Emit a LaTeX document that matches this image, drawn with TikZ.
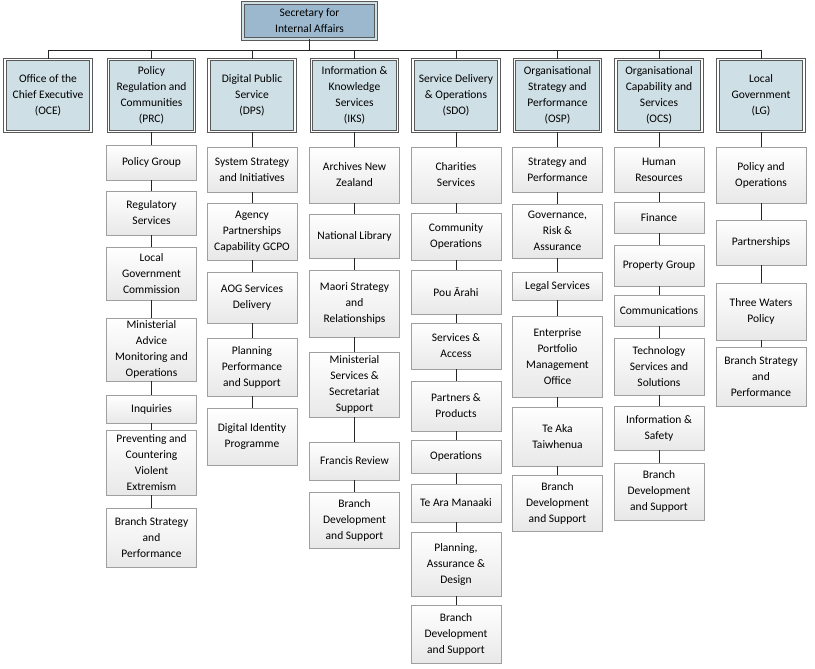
\documentclass[tikz,border=0pt]{standalone}
\usepackage{fontspec}
\setmainfont{Carlito}
\definecolor{topfill}{HTML}{9BB8CE}
\definecolor{headfill}{HTML}{CFDFE6}
\definecolor{edgegrey}{HTML}{595959}
\tikzset{
  topbox/.style={draw=edgegrey, double=headfill, double distance=1.4pt, line width=0.9pt, fill=topfill, align=center, font=\fontsize{11.5}{16}\selectfont, minimum width=133, minimum height=36, inner sep=1pt},
  headbox/.style={draw=edgegrey, double=white, double distance=1.4pt, line width=0.9pt, fill=headfill, align=center, font=\fontsize{11.5}{16}\selectfont, minimum width=86, minimum height=72, inner sep=1pt},
  unitbox/.style={draw=gray!75, top color=white, bottom color=gray!18, align=center, font=\fontsize{11.5}{16}\selectfont, minimum width=90, inner sep=1pt},
  link/.style={draw=gray!30!black, line width=0.7pt}
}
\newcommand\unitcolumn[3]{%
  \foreach \t/\b/\txt [count=\i] in {#3} {
    \node[unitbox, minimum height={\b-\t}] (#1-\i) at (#2,{(\t+\b)/2}) {\txt};
    \ifnum\i=1
      \draw[link] (#1.south) -- (#1-\i.north);
    \else
      \pgfmathtruncatemacro\prev{\i-1}
      \draw[link] (#1-\prev.south) -- (#1-\i.north);
    \fi
  }%
}
\begin{document}
\begin{tikzpicture}[x=1pt,y=-1pt]
  \useasboundingbox (0,0) rectangle (815,669);

  % top of the tree
  \node[topbox] (sec) at (309.5,21) {Secretary for\\Internal Affairs};
  \coordinate (busL) at (48,50);
  \coordinate (busR) at (761,50);
  \draw[link] (sec.south) -- (sec.south |- busL);
  \draw[link] (busL) -- (busR);

  % group heads
  \foreach \name/\x/\txt in {oce/48/{Office of the\\Chief Executive\\(OCE)},
      prc/151.5/{Policy\\Regulation and\\Communities\\(PRC)},
      dps/252/{Digital Public\\Service\\(DPS)},
      iks/354.5/{Information \&\\Knowledge\\Services\\(IKS)},
      sdo/456/{Service Delivery\\\& Operations\\(SDO)},
      osp/557.5/{Organisational\\Strategy and\\Performance\\(OSP)},
      ocs/659/{Organisational\\Capability and\\Services\\(OCS)},
      lg/761/{Local\\Government\\(LG)}} {
    \node[headbox] (\name) at (\x,95.5) {\txt};
    \draw[link] (\name.north |- busL) -- (\name.north);
  }

  % units under each head
  \unitcolumn{prc}{151.5}{145/180/{Policy Group}, 191/235/{Regulatory\\Services},
    247/300/{Local\\Government\\Commission}, 318/381/{Ministerial\\Advice\\Monitoring and\\Operations},
    395/423/{Inquiries}, 430/495/{Preventing and\\Countering\\Violent\\Extremism},
    508/567/{Branch Strategy\\and\\Performance}}
  \unitcolumn{dps}{252}{147/192/{System Strategy\\and Initiatives}, 203/260/{Agency\\Partnerships\\Capability GCPO},
    272/323/{AOG Services\\Delivery}, 338/396/{Planning\\Performance\\and Support},
    408/465/{Digital Identity\\Programme}}
  \unitcolumn{iks}{354.5}{147/203/{Archives New\\Zealand}, 214/258/{National Library},
    270/337/{Maori Strategy\\and\\Relationships}, 352/417/{Ministerial\\Services \&\\Secretariat\\Support},
    442/480/{Francis Review}, 492/548/{Branch\\Development\\and Support}}
  \unitcolumn{sdo}{456}{147/203/{Charities\\Services}, 213/260/{Community\\Operations},
    270/314/{Pou Ārahi}, 323/369/{Services \&\\Access}, 381/431/{Partners \&\\Products},
    440/473/{Operations}, 484/522/{Te Ara Manaaki}, 532/596/{Planning,\\Assurance \&\\Design},
    605/663/{Branch\\Development\\and Support}}
  \unitcolumn{osp}{557.5}{147/192/{Strategy and\\Performance}, 204/258/{Governance,\\Risk \&\\Assurance},
    272/300/{Legal Services}, 316/397/{Enterprise\\Portfolio\\Management\\Office},
    407/466/{Te Aka\\Taiwhenua}, 475/531/{Branch\\Development\\and Support}}
  \unitcolumn{ocs}{659}{147/192/{Human\\Resources}, 202/233/{Finance},
    245/286/{Property Group}, 295/326/{Communications},
    338/395/{Technology\\Services and\\Solutions}, 406/450/{Information \&\\Safety},
    463/520/{Branch\\Development\\and Support}}
  \unitcolumn{lg}{761}{147/203/{Policy and\\Operations}, 220/265/{Partnerships},
    283/340/{Three Waters\\Policy}, 347/406/{Branch Strategy\\and\\Performance}}

\end{tikzpicture}
\end{document}
